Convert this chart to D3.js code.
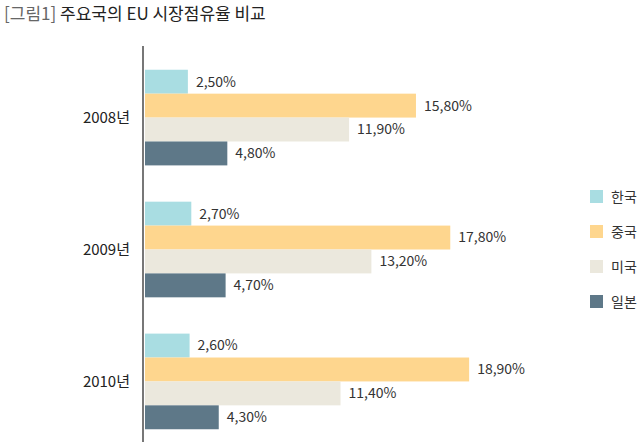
<!DOCTYPE html>
<html><head><meta charset="utf-8">
<script src="https://cdn.jsdelivr.net/npm/d3@7"></script>
<style>body{margin:0;background:#fff}</style>
</head><body>
<svg id="chart" width="640" height="442"></svg>
<script>
const years = ['2008년', '2009년', '2010년']
const countries = ['한국', '중국', '미국', '일본']
const values = [
  [2.5, 15.8, 11.9, 4.8],
  [2.7, 17.8, 13.2, 4.7],
  [2.6, 18.9, 11.4, 4.3]
]
const colors = ['#a9dde2', '#fed68e', '#ebe8dd', '#5e7888']

const svg = d3.select('#chart')
const font = "'Noto Sans CJK KR', sans-serif"

const title = svg.append('text').attr('x', 4).attr('y', 20)
  .attr('font-family', font).attr('font-size', 17).attr('fill', '#222')
title.append('tspan').attr('fill', '#666').text('[그림1] ')
title.append('tspan').text('주요국의 EU 시장점유율 비교')

const y = d3.scaleBand().domain(years).range([46, 453]).paddingInner(0.275).paddingOuter(0.18)
const yi = d3.scaleBand().domain(countries).range([0, y.bandwidth()])
const x = d3.scaleLinear().domain([0, 20]).range([145, 488])

const g = svg.append('g').selectAll('g').data(years).join('g')
  .attr('transform', d => `translate(0,${y(d)})`)

g.selectAll('rect').data((d, i) => values[i].map((v, j) => ({v, c: countries[j], j})))
  .join('rect')
  .attr('x', x(0)).attr('y', d => yi(d.c))
  .attr('width', d => x(d.v) - x(0)).attr('height', yi.bandwidth())
  .attr('fill', d => colors[d.j])

g.selectAll('text.v').data((d, i) => values[i].map((v, j) => ({v, c: countries[j]})))
  .join('text').attr('class', 'v')
  .attr('x', d => x(d.v) + 8).attr('y', d => yi(d.c) + yi.bandwidth() / 2)
  .attr('dy', '0.35em').attr('font-family', font).attr('font-size', 14).attr('fill', '#333')
  .text(d => d.v.toFixed(2).replace('.', ',') + '%')

g.append('text').attr('x', 130).attr('y', y.bandwidth() / 2).attr('dy', '0.35em')
  .attr('text-anchor', 'end').attr('font-family', font).attr('font-size', 15).attr('fill', '#222')
  .text(d => d)

svg.append('line').attr('x1', 143).attr('x2', 143).attr('y1', 46).attr('y2', 442)
  .attr('stroke', '#777').attr('stroke-width', 2)

const lg = svg.append('g').selectAll('g').data(countries).join('g')
  .attr('transform', (d, i) => `translate(590,${190 + i * 35})`)
lg.append('rect').attr('width', 13).attr('height', 13).attr('fill', (d, i) => colors[i])
lg.append('text').attr('x', 21).attr('y', 7).attr('dy', '0.35em')
  .attr('font-family', font).attr('font-size', 14).attr('fill', '#333').text(d => d)
</script>
</body></html>
